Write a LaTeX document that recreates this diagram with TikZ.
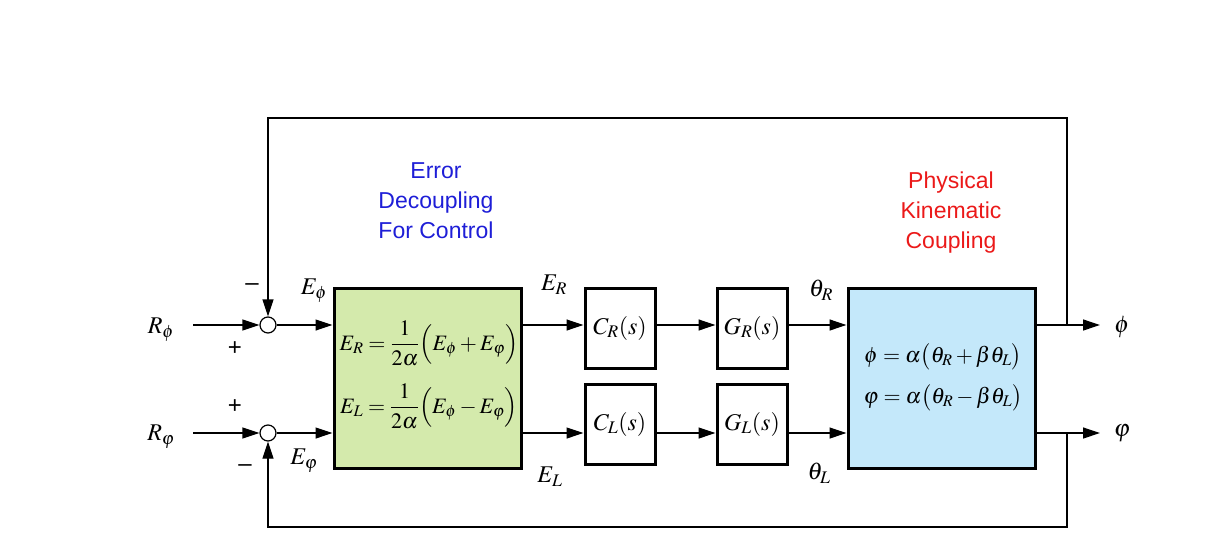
\documentclass[tikz,border=0pt]{standalone}
\usepackage{amsmath}
\usepackage{mathptmx}
\usepackage[no-math]{fontspec}
\newfontfamily\arialfont{Liberation Sans}
\usetikzlibrary{arrows.meta,calc}
\definecolor{boxgreen}{RGB}{212,234,172}
\definecolor{boxblue}{RGB}{196,232,250}
\definecolor{txtblue}{RGB}{30,30,215}
\definecolor{txtred}{RGB}{235,25,25}
\tikzset{
  flow/.style={line width=1.2pt,-{Triangle[length=17pt,width=11pt]}},
  blockbox/.style={draw,line width=3pt,minimum width=70pt,minimum height=80pt,inner sep=0pt,font=\fontsize{24}{28}\selectfont},
  bigbox/.style={draw,line width=3pt,minimum width=187pt,minimum height=180pt,inner sep=0pt},
  sumnode/.style={draw,circle,line width=1.2pt,minimum size=16pt,inner sep=0pt,fill=white},
  lbl/.style={inner sep=0pt,font=\fontsize{24}{28}\selectfont},
  eqn/.style={inner sep=0pt,font=\fontsize{22}{26}\selectfont},
  sgn/.style={inner sep=0pt,font=\arialfont\fontsize{24}{28}\selectfont},
  caption/.style={inner sep=0pt,align=center,font=\arialfont\fontsize{23}{30}\selectfont}
}
\begin{document}
\begin{tikzpicture}[x=1pt,y=-1pt]
\useasboundingbox (0,0) rectangle (1206,545);
% blocks
\node[bigbox,fill=boxgreen] (dec) at (427.5,378) {};
\node[bigbox,fill=boxblue] (kin) at (941.5,378) {};
\node[blockbox] (CR) at (620,328) {$C_R(s)$};
\node[blockbox] (CL) at (620,424) {$C_L(s)$};
\node[blockbox] (GR) at (752,328) {$G_R(s)$};
\node[blockbox] (GL) at (752,424) {$G_L(s)$};
% equations
\node[eqn] (eqR) at (429,343) {$E_R=\dfrac{1}{2\alpha}\Big(E_\phi+E_\varphi\Big)$};
\node[eqn] (eqL) at (429,406) {$E_L=\dfrac{1}{2\alpha}\Big(E_\phi-E_\varphi\Big)$};
\node[eqn] (eqP) at (943,357) {$\phi=\alpha\big(\theta_R+\beta\theta_L\big)$};
\node[eqn] (eqV) at (943,398) {$\varphi=\alpha\big(\theta_R-\beta\theta_L\big)$};
% summing junctions
\node[sumnode] (s1) at (268,325) {};
\node[sumnode] (s2) at (268,433) {};
% coordinates
\coordinate (in1) at (193,325);
\coordinate (in2) at (193,433);
\coordinate (tap1) at (1067,325);
\coordinate (tap2) at (1067,433);
\coordinate (out1) at (1100,325);
\coordinate (out2) at (1100,433);
\coordinate (topL) at (268,118);
\coordinate (botL) at (268,527);
% signal flow
\draw[flow] (in1) -- (s1);
\draw[flow] (in2) -- (s2);
\draw[flow] (s1) -- (s1 -| dec.west);
\draw[flow] (s2) -- (s2 -| dec.west);
\draw[flow] (s1 -| dec.east) -- (s1 -| CR.west);
\draw[flow] (s2 -| dec.east) -- (s2 -| CL.west);
\draw[flow] (s1 -| CR.east) -- (s1 -| GR.west);
\draw[flow] (s2 -| CL.east) -- (s2 -| GL.west);
\draw[flow] (s1 -| GR.east) -- (s1 -| kin.west);
\draw[flow] (s2 -| GL.east) -- (s2 -| kin.west);
\draw[flow] (s1 -| kin.east) -- (out1);
\draw[flow] (s2 -| kin.east) -- (out2);
% feedback
\draw[flow] (tap1) |- (topL) -- (s1);
\draw[flow] (tap2) |- (botL) -- (s2);
% labels
\node[lbl] (Rp) at (161,330) {$R_\phi$};
\node[lbl] (Rv) at (161,437) {$R_\varphi$};
\node[lbl] (Ep) at (314,291) {$E_\phi$};
\node[lbl] (Ev) at (304,461) {$E_\varphi$};
\node[lbl] (ER) at (554,285) {$E_R$};
\node[lbl] (EL) at (550,477) {$E_L$};
\node[lbl] (tR) at (821,290) {$\theta_R$};
\node[lbl] (tL) at (819,473) {$\theta_L$};
\node[lbl] (yp) at (1122,327) {$\phi$};
\node[lbl] (yv) at (1122,433) {$\varphi$};
\node[sgn] (p1) at (235,349) {+};
\node[sgn] (m1) at (252,287) {\textendash};
\node[sgn] (p2) at (235,407) {+};
\node[sgn] (m2) at (245,468) {\textendash};
% captions
\node[caption,text=txtblue] (capE) at (436,201) {Error\\Decoupling\\For Control};
\node[caption,text=txtred] (capP) at (951,213) {Physical\\Kinematic\\Coupling};
\end{tikzpicture}
\end{document}
